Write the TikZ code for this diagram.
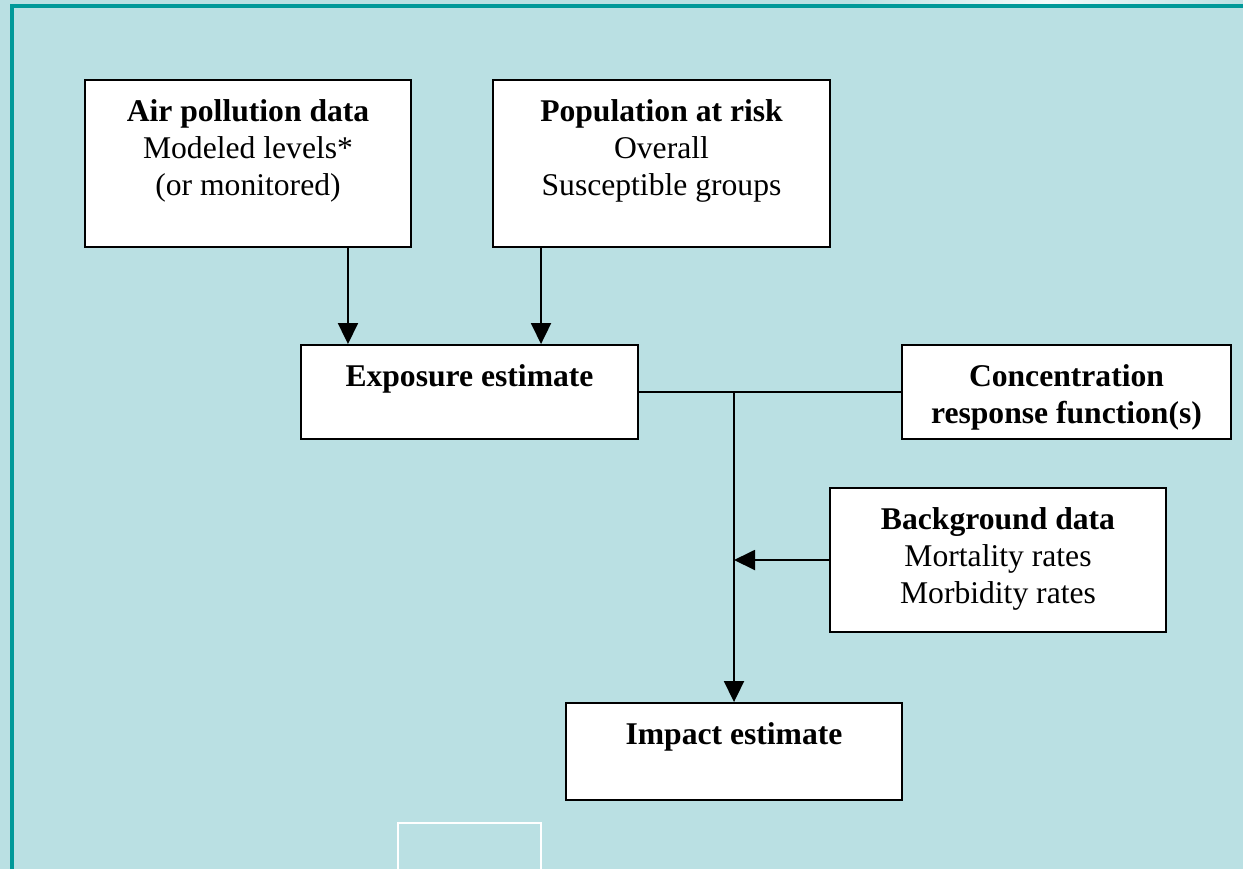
\documentclass[tikz,border=0pt]{standalone}
\usepackage{fontspec}
\setmainfont{Liberation Serif}
\usetikzlibrary{positioning,arrows.meta}
\definecolor{slidebg}{RGB}{186,224,227}
\definecolor{slideline}{RGB}{0,153,153}

\begin{document}
\begin{tikzpicture}[
  x=0.02cm, y=-0.02cm,
  box/.style={rectangle, draw, fill=white, line width=1.1pt},
  txt/.style={align=center, inner sep=0pt, font=\fontsize{18}{21}\selectfont},
  flow/.style={line width=1.1pt, -{Triangle[length=0.42cm,width=0.4cm]}},
  node distance=0.4cm
]
\useasboundingbox (0,0) rectangle (1243,869);
% Slide background
\fill[slidebg] (0,0) rectangle (1243,869);
\shade[left color=slidebg, right color=slidebg, middle color=white!85!slidebg] (850,0) rectangle (1243,6);
\draw[slideline, line width=1.8pt] (12,869) -- (12,6) -- (1243,6);
\draw[white, line width=0.8pt] (398,869) -- (398,823) -- (541,823) -- (541,869);

% Boxes
\node[box, minimum width=6.52cm, minimum height=3.34cm] (air) at (248,163.5) {};
\node[box, minimum width=6.74cm, minimum height=3.34cm] (pop) at (661.5,163.5) {};
\node[box, minimum width=6.74cm, minimum height=1.88cm] (expo) at (469.5,392) {};
\node[box, minimum width=6.58cm, minimum height=1.88cm] (conc) at (1066.5,392) {};
\node[box, minimum width=6.72cm, minimum height=2.88cm] (back) at (998,560) {};
\node[box, minimum width=6.72cm, minimum height=1.94cm] (impact) at (734,751.5) {};

% Box texts
\node[txt, below=of air.north] (airtext) {\textbf{Air pollution data}\\Modeled levels*\\(or monitored)};
\node[txt, below=of pop.north] (poptext) {\textbf{Population at risk}\\Overall\\Susceptible groups};
\node[txt, below=of expo.north] (expotext) {\textbf{Exposure estimate}};
\node[txt, below=of conc.north] (conctext) {\textbf{Concentration}\\\textbf{response function(s)}};
\node[txt, below=of back.north] (backtext) {\textbf{Background data}\\Mortality rates\\Morbidity rates};
\node[txt, below=of impact.north] (imptext) {\textbf{Impact estimate}};

% Inputs to exposure
\draw[flow] ([xshift=2cm]air.south) -- ([xshift=2cm]air.south |- expo.north);
\draw[flow] ([xshift=-2.41cm]pop.south) -- ([xshift=-2.41cm]pop.south |- expo.north);

% Exposure and response function to impact
\draw[line width=1.1pt] (expo.east) -- (conc.west);
\coordinate (junction) at (impact.north |- expo.east);
\draw[flow] (junction) -- (impact.north);
\draw[flow] (back.west) -- (back.west -| impact.north);
\end{tikzpicture}
\end{document}
